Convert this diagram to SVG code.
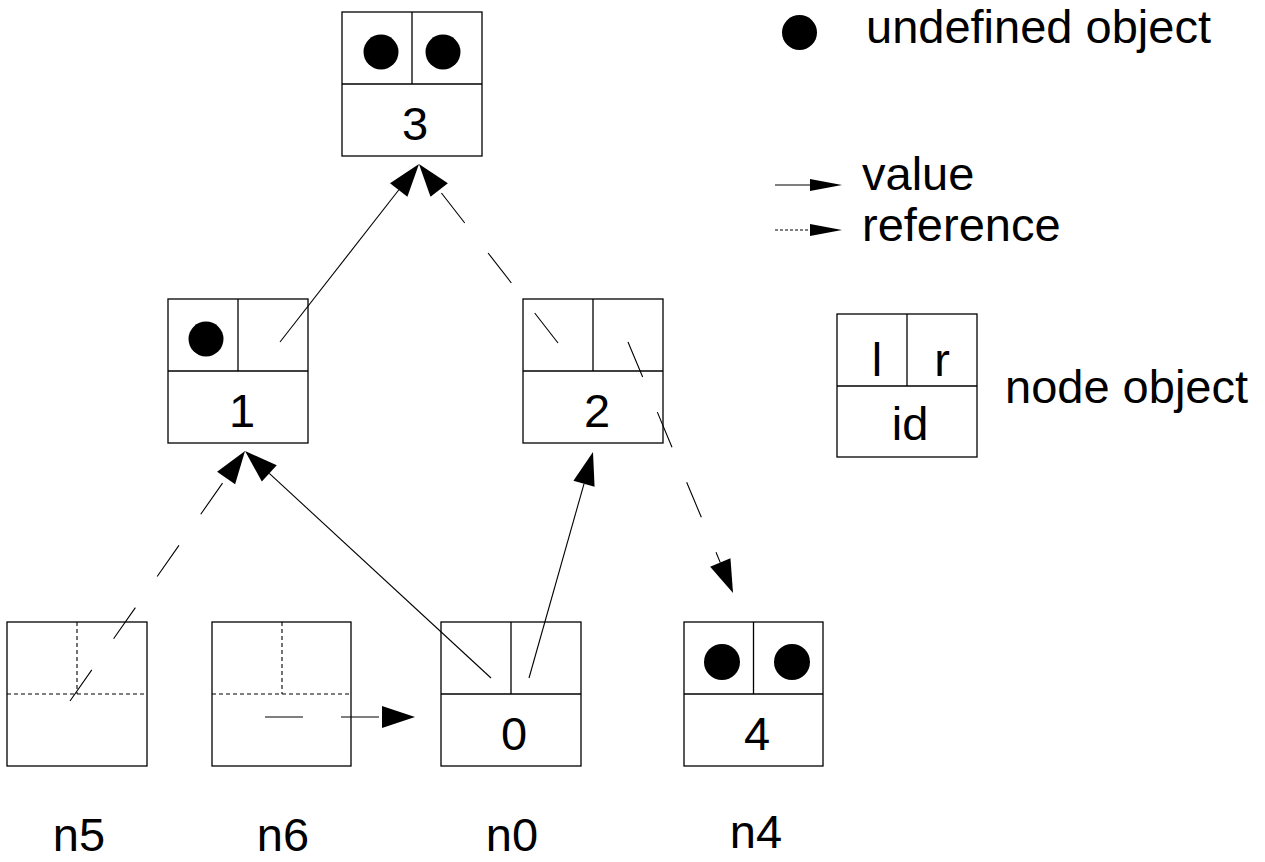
<svg xmlns="http://www.w3.org/2000/svg" width="1265" height="862" viewBox="0 0 1265 862">
<style>
  .box { fill: #fff; stroke: #000; stroke-width: 1.3; }
  .div { fill: none; stroke: #000; stroke-width: 1.3; }
  .ddiv { fill: none; stroke: #000; stroke-width: 1.1; stroke-dasharray: 4 3; }
  .dot { fill: #000; }
  .t { font-family: "Liberation Sans", Arial, sans-serif; font-size: 47px; fill: #000; }
  .c { text-anchor: middle; }
  .val { fill: none; stroke: #000; stroke-width: 1.1; marker-end: url(#ah); }
  .ref { fill: none; stroke: #000; stroke-width: 1.1; stroke-dasharray: 38 38; marker-end: url(#ah); }
  .lval { fill: none; stroke: #000; stroke-width: 1.1; marker-end: url(#ahs); }
  .lref { fill: none; stroke: #000; stroke-width: 1.1; stroke-dasharray: 3 2; marker-end: url(#ahs); }
</style>
<defs>
  <marker id="ah" markerUnits="userSpaceOnUse" markerWidth="34" markerHeight="23" refX="0" refY="11" orient="auto" overflow="visible">
    <path d="M0,0 L33,11 L0,22 Z" fill="#000"/>
  </marker>
  <marker id="ahs" markerUnits="userSpaceOnUse" markerWidth="33" markerHeight="13" refX="0" refY="6" orient="auto" overflow="visible">
    <path d="M0,0 L32,6 L0,12 Z" fill="#000"/>
  </marker>
</defs>
<rect width="1265" height="862" fill="#fff"/>

<g id="node3">
  <rect class="box" x="342" y="12" width="140" height="144"/>
  <line class="div" x1="342" y1="84" x2="482" y2="84"/>
  <line class="div" x1="412" y1="12" x2="412" y2="84"/>
  <circle class="dot" cx="381" cy="52" r="17.5"/>
  <circle class="dot" cx="443" cy="52" r="17.5"/>
  <text class="t c" x="415" y="140">3</text>
</g>

<g id="node1">
  <rect class="box" x="168" y="299" width="140" height="144"/>
  <line class="div" x1="168" y1="371" x2="308" y2="371"/>
  <line class="div" x1="238" y1="299" x2="238" y2="371"/>
  <circle class="dot" cx="206" cy="339" r="17.5"/>
  <text class="t c" x="242" y="427">1</text>
</g>

<g id="node2">
  <rect class="box" x="523" y="299" width="140" height="144"/>
  <line class="div" x1="523" y1="371" x2="663" y2="371"/>
  <line class="div" x1="593" y1="299" x2="593" y2="371"/>
  <text class="t c" x="597" y="427">2</text>
</g>

<g id="n5">
  <rect class="box" x="7" y="622" width="140" height="144"/>
  <line class="ddiv" x1="7" y1="694" x2="147" y2="694"/>
  <line class="ddiv" x1="77" y1="622" x2="77" y2="694"/>
  <text class="t c" x="79" y="851">n5</text>
</g>

<g id="n6">
  <rect class="box" x="212" y="622" width="139" height="144"/>
  <line class="ddiv" x1="212" y1="694" x2="351" y2="694"/>
  <line class="ddiv" x1="282" y1="622" x2="282" y2="694"/>
  <text class="t c" x="283" y="851">n6</text>
</g>

<g id="n0">
  <rect class="box" x="441" y="622" width="140" height="144"/>
  <line class="div" x1="441" y1="694" x2="581" y2="694"/>
  <line class="div" x1="511" y1="622" x2="511" y2="694"/>
  <text class="t c" x="514" y="750">0</text>
  <text class="t c" x="512" y="851">n0</text>
</g>

<g id="n4">
  <rect class="box" x="684" y="622" width="139" height="144"/>
  <line class="div" x1="684" y1="694" x2="823" y2="694"/>
  <line class="div" x1="753.5" y1="622" x2="753.5" y2="694"/>
  <circle class="dot" cx="722" cy="662" r="18"/>
  <circle class="dot" cx="792" cy="662" r="18"/>
  <text class="t c" x="757" y="750">4</text>
  <text class="t c" x="756" y="848">n4</text>
</g>

<g id="connectors">
  <line class="val" x1="280" y1="342" x2="398.7" y2="190"/>
  <line class="ref" x1="558" y1="343" x2="439.2" y2="190.1"/>
  <line class="ref" x1="628" y1="342" x2="720.3" y2="562.6"/>
  <line class="val" x1="529" y1="678" x2="584" y2="483.8"/>
  <line class="val" x1="491" y1="678" x2="269.3" y2="473.4"/>
  <line class="ref" x1="70" y1="701" x2="226.1" y2="478"/>
  <line class="ref" x1="265" y1="717" x2="382" y2="717"/>
</g>

<g id="legend">
  <circle class="dot" cx="799.5" cy="32.5" r="17.5"/>
  <text class="t" x="866" y="43">undefined object</text>
  <line class="lval" x1="775" y1="185" x2="810" y2="185"/>
  <text class="t" x="862" y="190">value</text>
  <line class="lref" x1="775" y1="230" x2="810" y2="230"/>
  <text class="t" x="862" y="241">reference</text>
  <g id="legend-node">
    <rect class="box" x="837" y="314" width="140" height="143"/>
    <line class="div" x1="837" y1="386" x2="977" y2="386"/>
    <line class="div" x1="907" y1="314" x2="907" y2="386"/>
    <text class="t c" x="877" y="376">l</text>
    <text class="t c" x="942" y="376">r</text>
    <text class="t c" x="910" y="440">id</text>
  </g>
  <text class="t" x="1005" y="403">node object</text>
</g>
</svg>
